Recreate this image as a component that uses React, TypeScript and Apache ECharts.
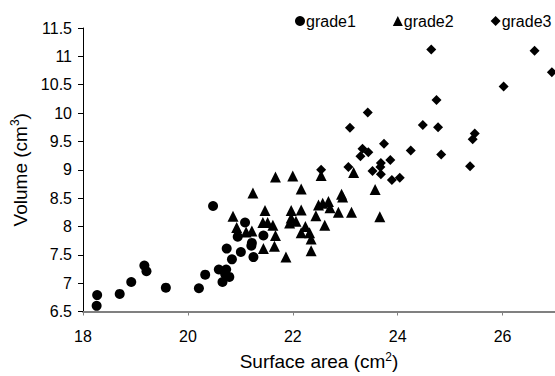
import React, { useEffect, useRef } from "react";
import * as echarts from "echarts";

const grade1: number[][] = [
  [18.26, 6.6], [18.27, 6.79], [18.7, 6.81], [18.92, 7.02], [19.17, 7.31], [19.21, 7.21],
  [19.58, 6.92], [20.21, 6.91], [20.33, 7.15], [20.48, 8.36], [20.59, 7.24], [20.66, 7.02],
  [20.71, 7.16], [20.73, 7.24], [20.79, 7.11], [20.74, 7.61], [20.84, 7.42], [20.95, 7.82],
  [21.01, 7.55], [21.09, 8.07], [21.22, 7.71], [21.21, 7.66], [21.25, 7.46], [21.44, 7.84],
];

const grade2: number[][] = [
  [20.86, 8.18], [20.93, 7.98], [21.11, 7.9], [21.22, 7.92], [21.24, 8.59], [21.43, 8.07],
  [21.44, 7.61], [21.47, 8.28], [21.52, 8.07], [21.62, 8.02], [21.65, 7.65], [21.67, 7.84],
  [21.67, 8.87], [21.87, 7.46], [21.94, 8.06], [21.97, 8.28], [21.97, 8.15], [22.0, 8.89],
  [22.06, 8.09], [22.16, 8.29], [22.16, 8.66], [22.16, 7.89], [22.24, 8.0], [22.32, 7.89],
  [22.35, 7.78], [22.35, 7.57], [22.44, 8.19], [22.49, 8.38], [22.54, 8.9], [22.57, 8.41],
  [22.61, 8.02], [22.68, 8.44], [22.71, 8.33], [22.87, 8.25], [22.93, 8.57], [22.95, 8.52],
  [23.12, 8.25], [23.16, 8.95], [23.57, 8.65], [23.66, 8.17],
];

const grade3: number[][] = [
  [22.54, 9.0], [23.06, 9.05], [23.09, 9.74], [23.29, 9.24], [23.33, 9.37], [23.43, 10.01],
  [23.44, 9.31], [23.52, 8.98], [23.67, 9.05], [23.68, 9.12], [23.68, 8.92], [23.74, 9.46],
  [23.86, 9.17], [23.89, 8.82], [24.04, 8.86], [24.25, 9.34], [24.48, 9.79], [24.64, 11.12],
  [24.74, 10.23], [24.77, 9.75], [24.83, 9.27], [25.38, 9.06], [25.43, 9.54], [25.47, 9.64],
  [26.02, 10.47], [26.61, 11.1], [26.94, 10.72],
];

const seriesNames = ["grade1", "grade2", "grade3"];
const xAxisName = "{a|Surface area (cm}{s|2}{a|)}";
const yAxisName = "{a|Volume (cm}{s|3}{a|)}";

const FONT = "'Liberation Sans', Arial, sans-serif";

export default function App() {
  const ref = useRef<HTMLDivElement>(null);
  useEffect(() => {
    if (!ref.current) return;
    const chart = echarts.init(ref.current, undefined, { renderer: "svg" });
    const rich = {
      a: { fontSize: 19, fontFamily: FONT, color: "#000", lineHeight: 22 },
      s: { fontSize: 12, fontFamily: FONT, color: "#000", verticalAlign: "top", lineHeight: 22 },
    };
    const mark = { color: "#000", opacity: 1 };
    chart.setOption({
      animation: false,
      backgroundColor: "#fff",
      textStyle: { fontFamily: FONT },
      legend: {
        left: 290,
        top: 8,
        width: 300,
        itemGap: 37,
        itemWidth: 10,
        itemHeight: 10,
        textStyle: { fontSize: 16, color: "#000", fontFamily: FONT, padding: [0, 0, 0, -4] },
        data: seriesNames,
      },
      grid: { left: 83, top: 28, width: 473, height: 285, containLabel: false },
      xAxis: {
        type: "value",
        min: 18,
        max: 27,
        interval: 2,
        name: xAxisName,
        nameLocation: "middle",
        nameGap: 39,
        nameTextStyle: { rich },
        axisLine: { show: true, lineStyle: { color: "#808080", width: 2 } },
        axisTick: { show: true, length: 4, lineStyle: { color: "#808080" } },
        axisLabel: { fontSize: 16, color: "#000", margin: 17, fontFamily: FONT, showMaxLabel: false },
        splitLine: { show: false },
      },
      yAxis: {
        type: "value",
        min: 6.5,
        max: 11.5,
        interval: 0.5,
        name: yAxisName,
        nameLocation: "middle",
        nameGap: 50,
        nameTextStyle: { rich },
        axisLine: { show: true, lineStyle: { color: "#000", width: 1 } },
        axisTick: { show: true, length: 5, lineStyle: { color: "#000" } },
        axisLabel: { fontSize: 16, color: "#000", margin: 11, fontFamily: FONT },
        splitLine: { show: false },
      },
      series: [
        { name: seriesNames[0], type: "scatter", symbol: "circle", symbolSize: 10, data: grade1, itemStyle: mark },
        { name: seriesNames[1], type: "scatter", symbol: "triangle", symbolSize: 11, data: grade2, itemStyle: mark },
        { name: seriesNames[2], type: "scatter", symbol: "diamond", symbolSize: 10, data: grade3, itemStyle: mark },
      ],
    });
    return () => chart.dispose();
  }, []);
  return <div ref={ref} style={{ width: 555, height: 376, position: "absolute", left: 0, top: 0 }} />;
}
